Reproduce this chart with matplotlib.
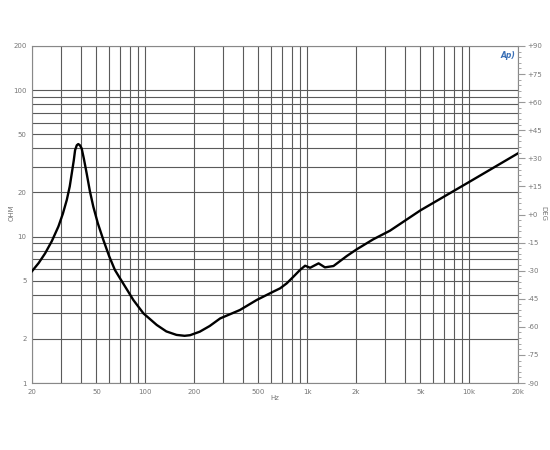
import numpy as np
import matplotlib
matplotlib.use("Agg")
import matplotlib.pyplot as plt
from matplotlib.ticker import FixedLocator, NullLocator

# Impedance curve (Hz, ohm)
freq = [20, 22, 24.1, 26.5, 29.1, 31, 32.8, 34.2, 35.2, 36.2, 36.9, 37.8, 38.6, 39.5,
        40.5, 41.8, 43.5, 45.5, 47.8, 51, 55.1, 60, 65, 69.9, 78.6, 84.4, 97.4, 117.8,
        135, 156, 175, 189, 217, 250, 290, 384, 488, 616, 680, 747, 822, 902, 970,
        1042, 1110, 1175, 1286, 1452, 1754, 2020, 2554, 3240, 5000, 10000, 20000]
impedance = [5.8, 6.6, 7.68, 9.3, 11.7, 14.3, 17.8, 22.0, 27.0, 33.0, 38.9, 42.0, 42.8, 42.0,
             40.0, 34.0, 27.0, 20.5, 16.0, 12.3, 9.5, 7.3, 5.91, 5.18, 4.2, 3.69, 2.99, 2.49,
             2.25, 2.13, 2.1, 2.12, 2.24, 2.45, 2.76, 3.15, 3.69, 4.2, 4.43, 4.79, 5.32, 5.91,
             6.32, 6.12, 6.35, 6.56, 6.16, 6.29, 7.36, 8.18, 9.57, 10.96, 15.1, 23.6, 37.0]

x_tick_vals = [20, 50, 100, 200, 500, 1000, 2000, 5000, 10000, 20000]
x_tick_labels = ["20", "50", "100", "200", "500", "1k", "2k", "5k", "10k", "20k"]
y_tick_vals = [1, 2, 5, 10, 20, 50, 100, 200]
y_tick_labels = ["1", "2", "5", "10", "20", "50", "100", "200"]
phase_ticks = list(range(-90, 91, 15))
phase_labels = [("+%d" % v if v >= 0 else "%d" % v) for v in phase_ticks]

fig = plt.figure(figsize=(5.5, 4.5), dpi=100)
ax = fig.add_axes([32/550, 1-383/450, (518-32)/550, (383-46)/450])
ax.set_xscale("log")
ax.set_yscale("log")
ax.set_xlim(20, 20000)
ax.set_ylim(1, 200)

gridc = "#5a5a5a"
xg = [m * 10**e for e in range(1, 5) for m in range(1, 10) if 20 <= m * 10**e <= 20000]
yg = [m * 10**e for e in range(0, 3) for m in range(1, 10) if 1 <= m * 10**e <= 200]
for v in xg:
    ax.axvline(v, color=gridc, lw=0.8, zorder=1)
for v in yg:
    ax.axhline(v, color=gridc, lw=0.8, zorder=1)

ax.plot(freq, impedance, color="black", lw=1.7, zorder=3, solid_joinstyle="round")

ax.xaxis.set_major_locator(FixedLocator(x_tick_vals))
ax.xaxis.set_minor_locator(NullLocator())
ax.set_xticklabels(x_tick_labels)
ax.yaxis.set_major_locator(FixedLocator(y_tick_vals))
ax.yaxis.set_minor_locator(NullLocator())
ax.set_yticklabels(y_tick_labels)
ax.tick_params(axis="both", length=0, labelsize=5, labelcolor="#777777", pad=4)
for s in ax.spines.values():
    s.set_color("#888888")
    s.set_linewidth(0.8)

ax2 = ax.twinx()
ax2.set_ylim(-90, 90)
ax2.set_yticks(phase_ticks)
ax2.set_yticklabels(phase_labels)
ax2.set_yticks(list(range(-90, 91, 3)), minor=True)
ax2.tick_params(axis="y", which="major", length=5, color="#999999", labelsize=5,
                labelcolor="#777777", pad=2)
ax2.tick_params(axis="y", which="minor", length=2.5, color="#999999")
for s in ax2.spines.values():
    s.set_visible(False)

fig.text(275/550, 1-398/450, "Hz", fontsize=5, color="#777777", ha="center", va="center")
fig.text(12/550, 1-213/450, "OHM", fontsize=5, color="#777777", ha="center", va="center",
         rotation=90)
fig.text(543/550, 1-213/450, "DEG", fontsize=5, color="#777777", ha="center", va="center",
         rotation=-90)
fig.text(508/550, 1-55/450, "Ap)", fontsize=5.5, color="#3a6fb5", ha="center", va="center",
         style="italic", fontweight="bold")

fig.savefig("out.png", dpi=100)
